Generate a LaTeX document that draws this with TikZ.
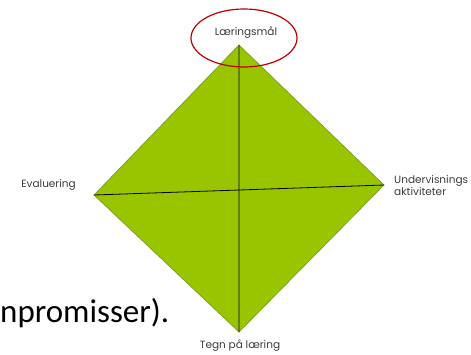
\documentclass[tikz,border=0pt]{standalone}
\usepackage{fontspec}
\setmainfont{Poppins}
\newfontfamily\bodyfont{Carlito}
\definecolor{diamondgreen}{HTML}{99C400}
\definecolor{edgegreen}{HTML}{6E9A1E}
\definecolor{ringred}{HTML}{C00000}
\definecolor{labelgray}{HTML}{3A3A3A}
\tikzset{
  corner label/.style={text=labelgray, font=\fontsize{10.5}{12}\selectfont, inner sep=1pt},
}
\begin{document}
\begin{tikzpicture}[x=1pt, y=-1pt, line join=round, line cap=round]
	\useasboundingbox (0,0) rectangle (471,354);
	\path	(239,45) coordinate (T)
		(384,185) coordinate (R)
		(239,332) coordinate (B)
		(94,195) coordinate (L);
	\fill[diamondgreen, draw=edgegreen, line width=0.6pt] (T)--(R)--(B)--(L)--cycle;
	\draw[line width=0.8pt] (T)--(B) (L)--(R);
	\draw[ringred, line width=1.2pt] (244,38) ellipse [x radius=53pt, y radius=29pt];
	\node[corner label] (goal) at (246,33) {Læringsmål};
	\node[corner label, anchor=east] (eval) at (77,185) {Evaluering};
	\node[corner label, anchor=north west, align=left] (teach) at (393,174) {Undervisnings\\aktiviteter};
	\node[corner label] (signs) at (240,346) {Tegn på læring};
	\node[anchor=west, inner sep=0pt, font=\bodyfont\fontsize{33}{37}\selectfont] (cut) at (0,313) {npromisser).};
\end{tikzpicture}
\end{document}
